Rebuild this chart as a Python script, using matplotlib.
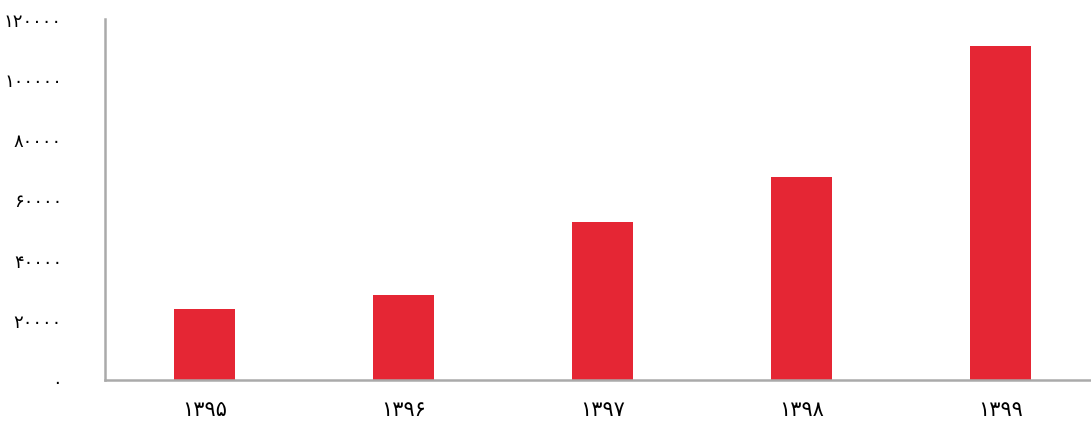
import numpy as np
import matplotlib.pyplot as plt

# Persian digits for labels
fa_digits = str.maketrans('0123456789', '۰۱۲۳۴۵۶۷۸۹')

years = ['1395', '1396', '1397', '1398', '1399']
values = [23600, 28300, 52500, 67500, 111000]
y_ticks = [0, 20000, 40000, 60000, 80000, 100000, 120000]

fig = plt.figure(figsize=(10.91, 4.27), dpi=100)
ax = fig.add_axes([105 / 1091, 46 / 427, 995 / 1091, 361 / 427])

x = np.arange(len(years))
ax.bar(x, values, width=0.31, color='#E52634')

ax.set_xlim(-0.5, 4.5)
ax.set_ylim(0, 120000)
ax.set_xticks(x)
ax.set_xticklabels([y.translate(fa_digits) for y in years], fontsize=15)
ax.set_yticks(y_ticks)
ax.set_yticklabels([str(v).translate(fa_digits) for v in y_ticks], fontsize=13)
ax.tick_params(axis='x', length=0, pad=14)
ax.tick_params(axis='y', length=0, pad=31)

for side in ['top', 'right']:
    ax.spines[side].set_visible(False)
for side in ['left', 'bottom']:
    ax.spines[side].set_color('#aaaaaa')
    ax.spines[side].set_linewidth(1.8)

fig.savefig('out.png')
